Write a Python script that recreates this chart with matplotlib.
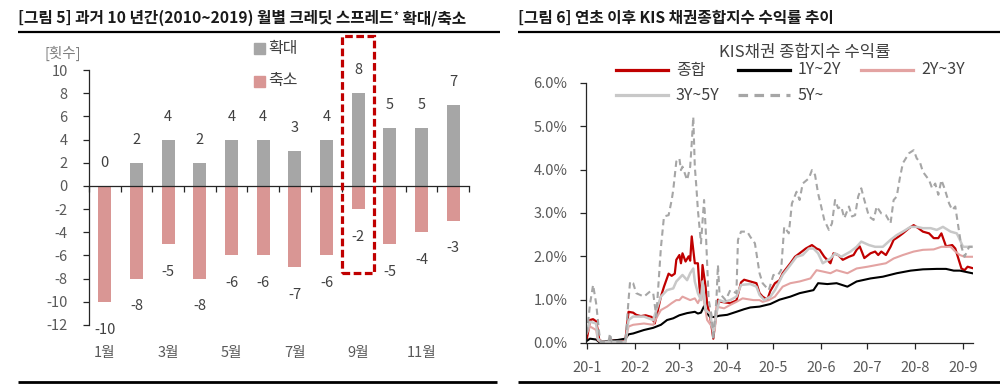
import matplotlib
matplotlib.use('Agg')
import matplotlib.pyplot as plt
import numpy as np
import pandas as pd
from matplotlib.lines import Line2D
from matplotlib.patches import Rectangle

plt.rcParams['font.family'] = ['Noto Sans CJK KR', 'DejaVu Sans']
plt.rcParams['axes.unicode_minus'] = False

# ---------------- data: left chart ----------------
months = ['1월', '2월', '3월', '4월', '5월', '6월', '7월', '8월', '9월', '10월', '11월', '12월']
expand = [0, 2, 4, 2, 4, 4, 3, 4, 8, 5, 5, 7]
shrink = [-10, -8, -5, -8, -6, -6, -7, -6, -2, -5, -4, -3]

# ---------------- data: right chart (days since 2020-01-01, return %) ----------------
total_days = [0, 1, 2, 4, 6, 7, 8, 10, 15, 20, 25, 26, 27, 30, 32, 35, 38, 42, 44, 46, 48, 50, 52, 53, 55, 57, 58,
              60, 61, 62, 64, 66, 67, 68, 70, 72, 73, 74, 75, 77, 78, 80, 82, 83, 85, 87, 89, 93, 97, 100, 102, 106,
              110, 112, 114, 117, 119, 122, 125, 127, 132, 135, 138, 142, 146, 149, 151, 154, 158, 160, 163, 166,
              170, 173, 175, 177, 180, 184, 187, 189, 191, 194, 197, 199, 202, 205, 209, 212, 215, 218, 222, 225,
              228, 230, 233, 237, 239, 241, 243, 245, 247, 250]
total_vals = [0.11, 0.30, 0.53, 0.55, 0.50, 0.30, 0.07, 0.03, 0.05, 0.06, 0.08, 0.40, 0.72, 0.70, 0.65, 0.62, 0.64,
              0.60, 0.45, 0.75, 1.07, 1.30, 1.50, 1.60, 1.55, 1.60, 1.92, 2.03, 1.84, 2.07, 1.88, 2.00, 1.90, 2.46,
              1.84, 1.84, 1.30, 1.00, 1.80, 1.30, 0.90, 0.60, 0.10, 0.40, 1.00, 0.95, 0.94, 0.92, 0.98, 1.40, 1.46,
              1.42, 1.38, 1.15, 1.07, 1.00, 1.20, 1.38, 1.45, 1.61, 1.84, 1.99, 2.07, 2.18, 2.26, 2.18, 2.15, 1.99,
              1.84, 2.07, 2.03, 1.92, 1.99, 2.03, 2.15, 2.23, 1.96, 2.07, 2.11, 2.03, 2.11, 2.03, 2.22, 2.38, 2.45,
              2.53, 2.65, 2.72, 2.65, 2.57, 2.53, 2.42, 2.42, 2.53, 2.23, 2.26, 2.18, 1.95, 1.72, 1.68, 1.76, 1.73]

y12_days = [0, 2, 6, 8, 12, 20, 25, 27, 30, 37, 43, 48, 52, 56, 60, 65, 70, 72, 74, 76, 78, 80, 83, 86, 91, 97, 102,
            106, 112, 119, 125, 132, 138, 147, 150, 156, 162, 169, 175, 184, 192, 201, 210, 218, 227, 233, 238, 242,
            250]
y12_vals = [0.05, 0.10, 0.08, 0.02, 0.04, 0.07, 0.10, 0.20, 0.22, 0.30, 0.35, 0.42, 0.53, 0.57, 0.64, 0.69, 0.72,
            0.68, 0.70, 0.85, 0.68, 0.60, 0.60, 0.63, 0.65, 0.72, 0.78, 0.82, 0.84, 0.90, 1.00, 1.07, 1.15, 1.22,
            1.38, 1.36, 1.38, 1.30, 1.42, 1.49, 1.53, 1.61, 1.67, 1.70, 1.71, 1.71, 1.67, 1.67, 1.61]

y23_days = [0, 2, 6, 7, 9, 25, 27, 30, 37, 43, 45, 48, 52, 55, 58, 60, 62, 67, 70, 72, 75, 78, 81, 83, 84, 89, 93,
            97, 101, 108, 112, 114, 118, 122, 127, 132, 138, 145, 149, 153, 158, 162, 169, 175, 182, 188, 194, 199,
            205, 212, 218, 225, 230, 236, 239, 242, 245, 250]
y23_vals = [0.22, 0.38, 0.30, 0.07, 0.02, 0.02, 0.38, 0.42, 0.45, 0.42, 0.57, 0.76, 0.84, 0.92, 0.99, 0.99, 1.07,
            0.99, 1.03, 0.92, 1.15, 0.53, 0.38, 0.30, 0.84, 0.80, 0.88, 0.95, 1.03, 0.99, 0.99, 0.95, 0.99, 1.07,
            1.30, 1.38, 1.42, 1.49, 1.68, 1.65, 1.61, 1.68, 1.61, 1.72, 1.76, 1.80, 1.84, 1.95, 2.03, 2.11, 2.15,
            2.16, 2.22, 2.22, 2.11, 2.03, 1.99, 1.99]

y35_days = [0, 2, 6, 7, 9, 25, 27, 30, 37, 43, 45, 48, 52, 56, 58, 62, 65, 67, 69, 70, 72, 74, 75, 77, 80, 82, 84,
            86, 89, 93, 97, 100, 106, 110, 112, 115, 119, 122, 127, 132, 136, 140, 144, 147, 150, 153, 158, 161,
            165, 171, 175, 178, 183, 187, 192, 197, 201, 205, 210, 214, 218, 223, 227, 231, 236, 240, 242, 244,
            247, 250]
y35_vals = [0.30, 0.49, 0.45, 0.11, 0.03, 0.03, 0.53, 0.61, 0.61, 0.53, 0.76, 1.07, 1.22, 1.26, 1.42, 1.57, 1.45,
            1.61, 1.72, 1.42, 1.15, 0.99, 1.42, 0.76, 0.68, 0.22, 0.68, 0.99, 0.95, 0.99, 1.07, 1.34, 1.36, 1.30,
            1.11, 0.99, 1.07, 1.22, 1.57, 1.80, 1.99, 2.03, 2.18, 2.18, 2.07, 1.84, 1.95, 2.07, 1.99, 2.11, 2.22,
            2.34, 2.26, 2.22, 2.22, 2.38, 2.49, 2.57, 2.68, 2.68, 2.65, 2.65, 2.61, 2.68, 2.57, 2.53, 2.38, 2.22,
            2.22, 2.22]

y5p_days = [0, 2, 4, 6, 8, 9, 14, 15, 16, 25, 27, 28, 30, 32, 37, 41, 43, 45, 48, 50, 53, 55, 56, 58, 60, 61, 62,
            65, 67, 68, 69, 70, 71, 72, 74, 76, 77, 79, 81, 82, 84, 85, 86, 90, 93, 97, 98, 100, 104, 106, 109,
            112, 114, 118, 121, 124, 126, 128, 131, 133, 136, 138, 140, 144, 146, 148, 150, 152, 154, 157, 159,
            161, 163, 165, 167, 170, 172, 174, 176, 178, 180, 183, 186, 188, 191, 194, 197, 199, 201, 203, 205,
            209, 212, 214, 216, 218, 222, 224, 226, 228, 230, 232, 235, 237, 239, 241, 243, 245, 248, 250]
y5p_vals = [0.22, 0.90, 1.34, 0.91, 0.22, 0.03, 0.03, 0.22, 0.03, 0.03, 0.99, 1.42, 1.38, 1.15, 1.07, 1.19, 1.15,
            0.61, 2.20, 2.92, 2.95, 3.30, 3.53, 4.19, 4.26, 3.99, 4.07, 3.76, 4.07, 4.61, 5.22, 4.07, 3.61, 3.07,
            2.30, 3.30, 2.68, 0.99, 0.61, 0.07, 0.99, 1.80, 1.15, 0.99, 1.22, 1.15, 2.38, 2.57, 2.57, 2.45, 2.30,
            1.61, 1.38, 1.22, 1.57, 1.57, 1.68, 2.68, 2.53, 3.22, 3.49, 3.30, 3.68, 3.80, 3.99, 3.88, 3.45, 3.15,
            2.84, 2.61, 2.76, 3.30, 3.11, 3.15, 2.88, 3.15, 2.92, 2.95, 3.38, 3.57, 3.30, 2.92, 2.84, 3.15, 2.99,
            2.95, 2.76, 3.30, 3.38, 3.80, 4.15, 4.38, 4.45, 4.26, 4.18, 3.95, 3.76, 3.57, 3.68, 3.42, 3.76, 3.57,
            3.22, 3.07, 3.15, 2.68, 2.22, 1.99, 2.22, 2.22]

series_names = ['종합', '1Y~2Y', '2Y~3Y', '3Y~5Y', '5Y~']
tick_months = ['2020-01-01', '2020-02-01', '2020-03-01', '2020-04-01', '2020-05-01',
               '2020-06-01', '2020-07-01', '2020-08-01', '2020-09-01']
tick_labels = ['20-1', '20-2', '20-3', '20-4', '20-5', '20-6', '20-7', '20-8', '20-9']

# ---------------- figure ----------------
W, H = 1000, 387
fig = plt.figure(figsize=(10, 3.87), dpi=100)


def fx(px):
    return px / W


def fy(py):
    return 1 - py / H


TICK_C = '#595959'
LABEL_C = '#404040'
TITLE_FS = 11.3

# ---------- titles and rules ----------
t1 = fig.text(fx(18), fy(18), '[그림 5] 과거 10 년간(2010~2019) 월별 크레딧 스프레드',
              fontsize=TITLE_FS, fontweight='bold', color='#1a1a1a', va='center', ha='left')
t1b = fig.text(0, 0, '*', fontsize=7, fontweight='bold', color='#1a1a1a')
t1c = fig.text(0, 0, ' 확대/축소', fontsize=TITLE_FS, fontweight='bold', color='#1a1a1a', va='center', ha='left')
fig.text(fx(518), fy(18), '[그림 6] 연초 이후 KIS 채권종합지수 수익률 추이',
         fontsize=TITLE_FS, fontweight='bold', color='#1a1a1a', va='center', ha='left')
for (x0, x1, yy, lw) in [(18, 500, 31.5, 1.6), (518, 1000, 31.5, 1.6), (18, 497, 382, 2.0), (518, 1000, 382, 2.0)]:
    fig.add_artist(Line2D([fx(x0), fx(x1)], [fy(yy), fy(yy)], color='black', lw=lw,
                          transform=fig.transFigure, solid_capstyle='butt'))

# ---------- left chart ----------
axL = fig.add_axes([fx(89), fy(325), fx(469) - fx(89), fy(70) - fy(325)])
x = np.arange(len(months))
axL.bar(x, expand, width=0.41, color='#A6A6A6', zorder=2)
axL.bar(x, shrink, width=0.41, color='#D99694', zorder=2)
axL.set_xlim(-0.5, len(months) - 0.5)
axL.set_ylim(-12, 10)
axL.set_yticks(range(-12, 11, 2))
axL.spines[['top', 'right']].set_visible(False)
axL.spines['bottom'].set_position(('data', 0))
axL.spines['bottom'].set_zorder(3)
for s in ['left', 'bottom']:
    axL.spines[s].set_color('#262626')
    axL.spines[s].set_linewidth(0.9)
axL.set_xticks(np.arange(-0.5, len(months), 1))
axL.set_xticklabels([])
axL.tick_params(axis='x', direction='out', length=4.3, color='#262626', width=0.9)
axL.tick_params(axis='y', direction='out', length=4.3, color='#262626', width=0.9,
                pad=11, labelsize=10.5, labelcolor=TICK_C)
trL = axL.get_xaxis_transform()
for i in range(0, len(months), 2):
    axL.text(x[i], -0.11, months[i], transform=trL, ha='center', va='center',
             fontsize=10.5, color=TICK_C)
for xi, v in zip(x, expand):
    axL.annotate(str(v), (xi, v), xytext=(0, 16.5), textcoords='offset points',
                 ha='center', va='center', fontsize=10.5, color=LABEL_C)
for xi, v in zip(x, shrink):
    axL.annotate(str(v), (xi, v), xytext=(0, -20), textcoords='offset points',
                 ha='center', va='center', fontsize=10.5, color=LABEL_C)
# highlight box around September
axL.add_patch(Rectangle((7.5, -7.5), 1.0, 20.45, fill=False, ec='#C00000', lw=2.3,
                        ls=(0, (2.4, 1.1)), clip_on=False, zorder=5))
fig.text(fx(45), fy(53), '[횟수]', fontsize=10.5, color='#7F7F7F', va='center', ha='left')
for (yy, col, lab) in [(48, '#A6A6A6', '확대'), (81, '#D99694', '축소')]:
    fig.add_artist(Rectangle((fx(254), fy(yy + 5.5)), fx(11), 11 / H, color=col,
                             transform=fig.transFigure))
    fig.text(fx(268), fy(yy), lab, fontsize=11.5, color=LABEL_C, va='center', ha='left')

# ---------- right chart ----------
axR = fig.add_axes([fx(586), fy(343), fx(973) - fx(586), fy(83) - fy(343)])
base = pd.Timestamp('2020-01-01')


def to_dates(days):
    return base + pd.to_timedelta(days, unit='D')


styles = [
    (total_days, total_vals, dict(color='#C00000', lw=1.6)),
    (y12_days, y12_vals, dict(color='#000000', lw=1.5)),
    (y23_days, y23_vals, dict(color='#E3A3A2', lw=1.5)),
    (y35_days, y35_vals, dict(color='#C8C8C8', lw=1.8)),
    (y5p_days, y5p_vals, dict(color='#A6A6A6', lw=1.5, ls=(0, (3, 2)))),
]
for (d, v, st), name in zip(styles, series_names):
    axR.plot(to_dates(d), v, label=name, **st)

axR.set_ylim(0, 6)
axR.set_xlim(base - pd.Timedelta(days=0.6), base + pd.Timedelta(days=250.5))
axR.set_yticks(np.arange(0, 7, 1))
axR.set_yticklabels([f'{t:.1f}%' for t in np.arange(0, 7, 1)])
axR.set_xticks(pd.to_datetime(tick_months))
axR.set_xticklabels(tick_labels)
axR.spines[['top', 'right']].set_visible(False)
for s in ['left', 'bottom']:
    axR.spines[s].set_color('#262626')
    axR.spines[s].set_linewidth(0.9)
axR.tick_params(axis='both', direction='out', length=4.3, color='#262626', width=0.9,
                labelsize=10.5, labelcolor=TICK_C)
axR.tick_params(axis='y', pad=9)
axR.tick_params(axis='x', pad=9)

# legend (manual layout)
fig.text(fx(805), fy(52), 'KIS채권 종합지수 수익률', fontsize=12, color=LABEL_C, ha='center', va='center')
leg_pos = [(616, 70), (738, 70), (861, 70), (616, 95), (738, 95)]
for (d, v, st), name, (lx, ly) in zip(styles, series_names, leg_pos):
    kw = dict(st)
    kw['lw'] = 2.3
    fig.add_artist(Line2D([fx(lx), fx(lx + 52)], [fy(ly), fy(ly)], transform=fig.transFigure, **kw))
    fig.text(fx(lx + 60), fy(ly), name, fontsize=11.5, color=LABEL_C, ha='left', va='center')

# place superscript star & rest of title
fig.canvas.draw()
r = fig.canvas.get_renderer()
bb = t1.get_window_extent(r)
t1b.set_position((bb.x1 / W + 0.0005, (bb.y1 - 9) / H))
fig.canvas.draw()
bb2 = t1b.get_window_extent(r)
t1c.set_position((bb2.x1 / W, fy(18)))

fig.savefig('out.png', dpi=100)
